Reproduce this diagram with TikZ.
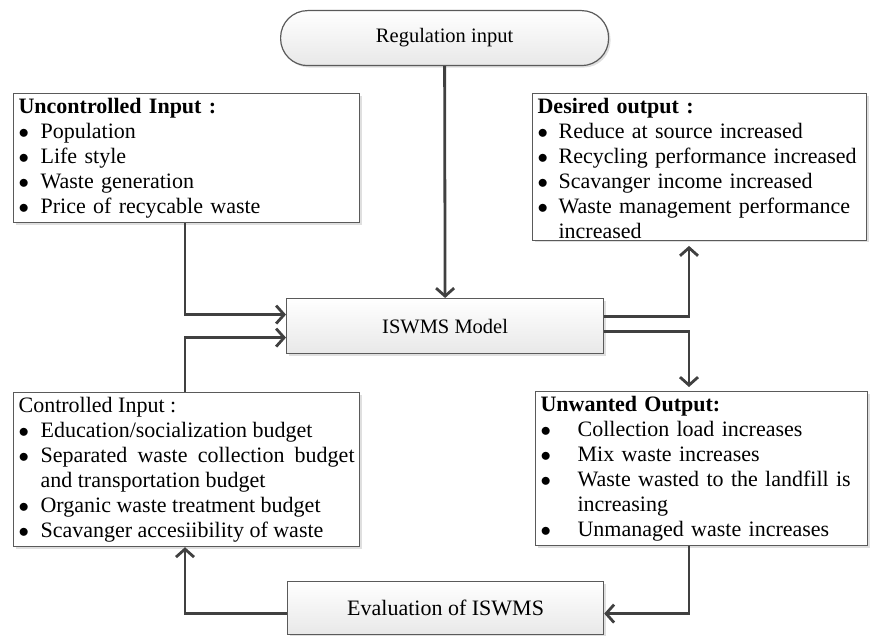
\documentclass[tikz,border=0pt]{standalone}
\usepackage{fontspec}
\setmainfont{Liberation Serif}
\usepackage{tikz}
\usetikzlibrary{positioning,calc,arrows.meta,shadows}
\definecolor{edge}{HTML}{5A5A5A}
\definecolor{wire}{HTML}{404040}
\newcommand{\itm}[2][22pt]{\par\noindent\hangindent=#1\hangafter=1\strut\makebox[#1][l]{$\bullet$}#2}
\tikzstyle{panel} = [draw=edge, line width=1.2pt, fill=white, anchor=north west, inner xsep=5pt, inner ysep=2pt, align=left, font=\fontsize{22}{25}\selectfont, drop shadow={opacity=0.25, shadow xshift=2pt, shadow yshift=-2pt}]
\tikzstyle{block} = [draw=edge, line width=1.2pt, top color=white, bottom color=gray!18, anchor=north west, inner sep=0pt, drop shadow={opacity=0.25, shadow xshift=2pt, shadow yshift=-2pt}]
\tikzstyle{flow} = [-{Straight Barb[length=8pt, width=18pt]}, draw=wire, line width=2.8pt]

\begin{document}
\begin{tikzpicture}[x=1pt, y=-1pt]
	\useasboundingbox (0,0) rectangle (870,636);
	\node (reg) [block, rounded corners=27pt, minimum width=328pt, minimum height=55pt, font=\fontsize{20.5}{24}\selectfont] at (280,10) {Regulation input};
	\node (unc) [panel, text width=336pt] at (13,93) {\strut\textbf{Uncontrolled Input :}\itm{Population}\itm{Life style}\itm{Waste generation}\itm{Price of recycable waste}\par\vspace{33pt}};
	\node (des) [panel, text width=324pt] at (532,93) {\strut\textbf{Desired output :}\itm[21pt]{Reduce at source increased}\itm[21pt]{Recycling performance increased}\itm[21pt]{Scavanger income increased}\itm[21pt]{Waste management performance increased}\par\vspace{7pt}};
	\node (model) [block, minimum width=317pt, minimum height=55pt, font=\fontsize{20.5}{24}\selectfont] at (286,298) {ISWMS Model};
	\node (ctl) [panel, text width=336pt, align=justify] at (13,392) {\strut Controlled Input :\itm{Education/socialization budget}\itm{Separated waste collection budget and transportation budget}\itm{Organic waste treatment budget}\itm{Scavanger accesiibility of waste}\par\vspace{7pt}};
	\node (unw) [panel, text width=322pt] at (535,391) {\strut\textbf{Unwanted Output:}\itm[37pt]{Collection load increases}\itm[37pt]{Mix waste increases}\itm[37pt]{Waste wasted to the landfill is increasing}\itm[37pt]{Unmanaged waste increases}\par\vspace{8pt}};
	\node (ev) [block, minimum width=316pt, minimum height=53pt, font=\fontsize{22}{26}\selectfont] at (287,581) {Evaluation of ISWMS};
	\draw [flow] (reg.south) -- (model.north);
	\draw [flow] ([xshift=172pt]unc.south west) |- ([yshift=11.5pt]model.west);
	\draw [flow] ([xshift=172pt]ctl.north west) |- ([yshift=-11.5pt]model.west);
	\draw [flow, shorten >=5pt] ([yshift=9.5pt]model.east) -| ([xshift=157pt]des.south west);
	\draw [flow, shorten >=4pt] ([yshift=-5.5pt]model.east) -| ([xshift=154pt]unw.north west);
	\draw [flow] ([xshift=154pt]unw.south west) |- ([yshift=-5.5pt]ev.east);
	\draw [flow] ([yshift=-5.5pt]ev.west) -| ([xshift=172pt]ctl.south west);
\end{tikzpicture}
\end{document}
